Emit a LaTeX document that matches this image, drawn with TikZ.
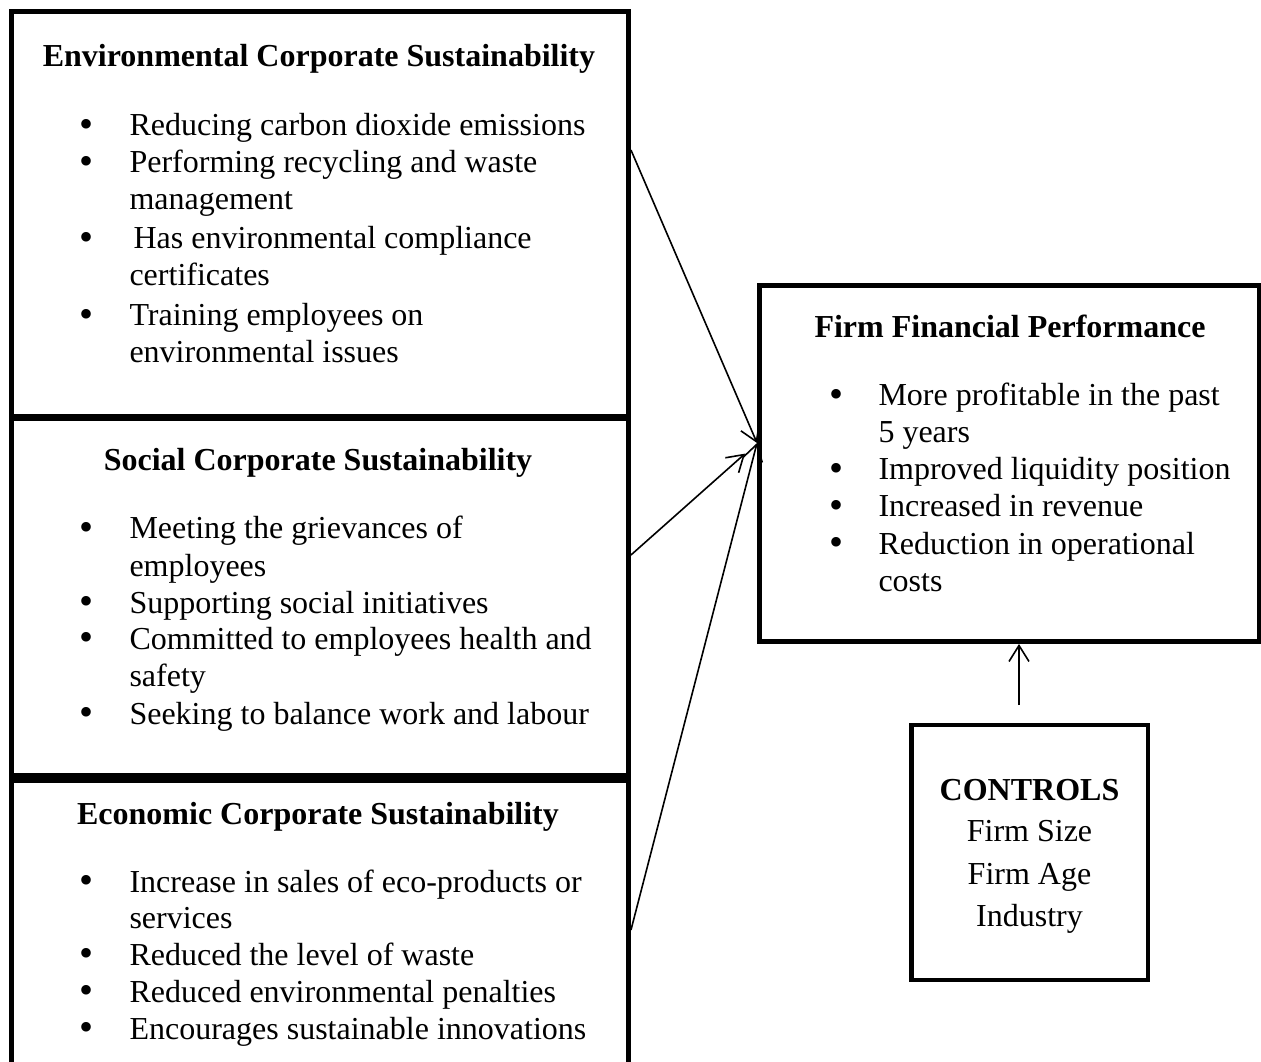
\documentclass[tikz,border=0pt]{standalone}
\usepackage{fontspec}
\setmainfont{Liberation Serif}
\usetikzlibrary{arrows.meta}
\begin{document}
\begin{tikzpicture}[x=0.375pt,y=-0.375pt,
  box/.style={draw=black, line width=1.85pt, rectangle, inner sep=0pt},
  txt/.style={anchor=base west, inner sep=0pt, font=\fontsize{12}{14}\selectfont},
  ttl/.style={anchor=base, inner sep=0pt, font=\fontsize{12}{14}\selectfont\bfseries},
  ctr/.style={anchor=base, inner sep=0pt, font=\fontsize{12}{14}\selectfont},
  bul/.style={anchor=base, inner sep=0pt, yshift=-0.5pt, font=\fontsize{15}{16}\selectfont},
  arr/.style={line width=0.6pt, -{Straight Barb[length=6pt,width=7.5pt]}}]
\useasboundingbox (0,0) rectangle (1261,1062);
\clip (0,0) rectangle (1261,1062);
% boxes
\node[box, minimum width=617*0.375pt, minimum height=405*0.375pt] (env) at (320,213.75) {};
\node[box, minimum width=617*0.375pt, minimum height=356.5*0.375pt] (soc) at (320,597.25) {};
\node[box, minimum width=617*0.375pt, minimum height=319*0.375pt] (eco) at (320,940) {};
\node[box, minimum width=499.5*0.375pt, minimum height=356*0.375pt] (ffp) at (1009.25,463.5) {};
\node[box, minimum width=236.5*0.375pt, minimum height=255*0.375pt] (ctrl) at (1029.75,852.5) {};
% connectors
\coordinate (in1) at (ffp.west |- 0,443);
\draw[arr] (env.east |- 0,150) -- (in1);
\draw[arr, shorten >=6pt] (soc.east |- 0,555) -- (in1);
\draw[arr] (eco.east |- 0,930) -- (in1);
\coordinate (cstart) at (1019,705);
\draw[arr] (cstart) -- (cstart |- ffp.south);
\begin{scope}[shift={(0,3)}]
% environmental
\node[ttl] (et) at (319,64) {Environmental Corporate Sustainability};
\node[bul] (eb1) at (87,133) {•};
\node[txt] (e1) at (129,133) {Reducing carbon dioxide emissions};
\node[bul] (eb2) at (87,170) {•};
\node[txt] (e2) at (129,170) {Performing recycling and waste};
\node[txt] (e3) at (129,207) {management};
\node[bul] (eb3) at (87,246) {•};
\node[txt] (e4) at (133,246) {Has environmental compliance};
\node[txt] (e5) at (129,283) {certificates};
\node[bul] (eb4) at (87,323) {•};
\node[txt] (e6) at (129,323) {Training employees on};
\node[txt] (e7) at (129,360) {environmental issues};
% social
\node[ttl] (st) at (318,468) {Social Corporate Sustainability};
\node[bul] (sb1) at (87,536) {•};
\node[txt] (s1) at (129,536) {Meeting the grievances of};
\node[txt] (s2) at (129,573) {employees};
\node[bul] (sb2) at (87,610) {•};
\node[txt] (s3) at (129,610) {Supporting social initiatives};
\node[bul] (sb3) at (87,646) {•};
\node[txt] (s4) at (129,646) {Committed to employees health and};
\node[txt] (s5) at (129,683) {safety};
\node[bul] (sb4) at (87,721) {•};
\node[txt] (s6) at (129,721) {Seeking to balance work and labour};
% economic
\node[ttl] (ct) at (318,821) {Economic Corporate Sustainability};
\node[bul] (cb1) at (87,889) {•};
\node[txt] (c1) at (129,889) {Increase in sales of eco-products or};
\node[txt] (c2) at (129,925) {services};
\node[bul] (cb2) at (87,962) {•};
\node[txt] (c3) at (129,962) {Reduced the level of waste};
\node[bul] (cb3) at (87,999) {•};
\node[txt] (c4) at (129,999) {Reduced environmental penalties};
\node[bul] (cb4) at (87,1036) {•};
\node[txt] (c5) at (129,1036) {Encourages sustainable innovations};
% firm financial performance
\node[ttl] (ft) at (1010,335) {Firm Financial Performance};
\node[bul] (fb1) at (836,403) {•};
\node[txt] (f1) at (878,403) {More profitable in the past};
\node[txt] (f2) at (878,440) {5 years};
\node[bul] (fb2) at (836,477) {•};
\node[txt] (f3) at (878,477) {Improved liquidity position};
\node[bul] (fb3) at (836,514) {•};
\node[txt] (f4) at (878,514) {Increased in revenue};
\node[bul] (fb4) at (836,551) {•};
\node[txt] (f5) at (878,551) {Reduction in operational};
\node[txt] (f6) at (878,588) {costs};
% controls
\node[ttl] (k0) at (1029.5,797) {CONTROLS};
\node[ctr] (k1) at (1029.5,838) {Firm Size};
\node[ctr] (k2) at (1029.5,881) {Firm Age};
\node[ctr] (k3) at (1029.5,923) {Industry};
\end{scope}
\end{tikzpicture}
\end{document}
